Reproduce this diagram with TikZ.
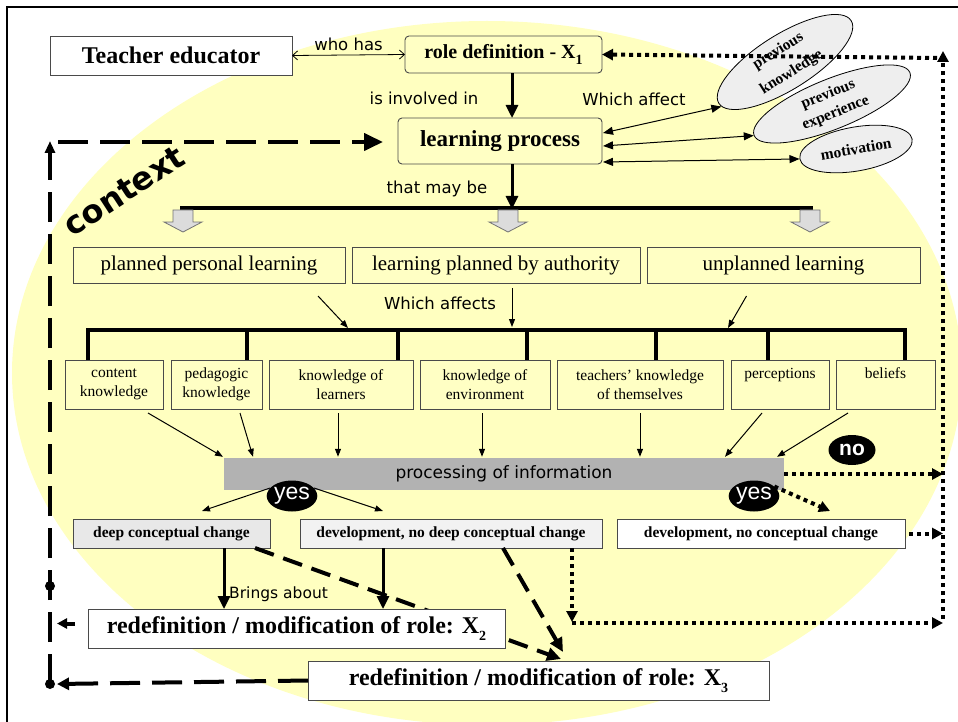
\documentclass[tikz,border=0pt]{standalone}
\usepackage{fontspec}
\setmainfont{Liberation Serif}
\newfontfamily\comic{DejaVu Sans}
\newfontfamily\arialf{Liberation Sans}
\usetikzlibrary{shapes.geometric,arrows.meta,calc}
\definecolor{ylw}{HTML}{FFFFC0}
\definecolor{boxy}{HTML}{FFFFC4}
\definecolor{bord}{HTML}{4A4A4A}
\definecolor{ellg}{HTML}{EEEEEE}
\definecolor{procg}{HTML}{B2B2B2}
\definecolor{blockg}{HTML}{DCDCDC}
\newcommand{\subx}[1]{\raisebox{-0.28em}{\fontsize{14}{14}\selectfont #1}}
\begin{document}
\begin{tikzpicture}[x=1pt,y=-1pt,
  box/.style={draw=bord, line width=0.9pt, inner sep=0pt, outer sep=0pt},
  rbox/.style={box, rounded corners=4pt, fill=boxy},
  ybox/.style={box, fill=boxy},
  bigtxt/.style={font=\fontsize{24}{28}\selectfont\bfseries},
  smallbox/.style={ybox, minimum height=49pt, align=center, font=\fontsize{15.5}{19}\selectfont},
  midbox/.style={ybox, minimum height=36pt, font=\fontsize{21}{24}\selectfont},
  resbox/.style={box, minimum height=29pt, font=\fontsize{15.5}{18}\selectfont\bfseries},
  oval/.style={ellipse, draw=black, line width=0.8pt, fill=ellg, inner sep=0pt, align=center, font=\fontsize{15.5}{20}\selectfont\bfseries},
  lbl/.style={font=\comic\fontsize{16.5}{18}\selectfont, inner sep=0pt},
  thinarr/.style={line width=1pt, -{Triangle[length=8pt,width=6pt]}},
  dblarr/.style={line width=1pt, {Triangle[length=10pt,width=8pt]}-{Triangle[length=10pt,width=8pt]}},
  openarr/.style={line width=0.8pt, {Straight Barb[length=5pt,width=9pt]}-{Straight Barb[length=5pt,width=9pt]}},
  thickarr/.style={line width=3pt, -{Triangle[length=13pt,width=12pt]}},
  barln/.style={line width=3.5pt},
  dshln/.style={line width=4pt, dash pattern=on 30pt off 12pt},
  dshdiag/.style={line width=4pt, dash pattern=on 20pt off 10pt},
  dotln/.style={line width=4pt, dash pattern=on 4pt off 4pt},
  dothead/.style={-{Triangle[length=11pt,width=11pt]}},
  badge/.style={ellipse, fill=black, text=white, inner sep=0pt, minimum width=46pt, minimum height=31pt},
]
\useasboundingbox (0,0) rectangle (958,722);
% background
\fill[ylw] (487,373) ellipse [x radius=475, y radius=352];
\draw[line width=2pt] (7,740) -- (7,7) -- (975,7);

% context
\node[rotate=33, font=\comic\fontsize{32}{34}\selectfont\bfseries] (ctx) at (124,191) {context};

% top nodes
\node[box, fill=white, minimum width=242pt, minimum height=39pt, bigtxt] (te) at (171,55.5) {Teacher educator};
\node[rbox, minimum width=197pt, minimum height=37pt, font=\fontsize{20}{24}\selectfont\bfseries] (rd) at (503.5,54.5) {role definition - X\subx{1}};
\node[rbox, minimum width=204pt, minimum height=46pt, font=\fontsize{23}{26}\selectfont\bfseries] (lp) at (500,141) {learning process};

\node[oval, rotate=32, minimum width=156pt, minimum height=54pt, font=\fontsize{15.5}{25}\selectfont\bfseries] (pk) at (785,62) {previous\\knowledge};
\node[oval, rotate=22, minimum width=168pt, minimum height=50pt] (pe) at (832,104) {previous\\experience};
\node[oval, rotate=10, minimum width=114pt, minimum height=44pt] (mo) at (856,149) {motivation};

\draw[openarr] (te.east) -- (rd.west) node[midway, above=4pt, lbl] {who has};
\draw[thickarr] ($(rd.south)+(8.5,0)$) coordinate (a1) -- (a1 |- lp.north);
\node[lbl] at (424,98) {is involved in};
\node[lbl] at (634,99) {Which affect};
\draw[dblarr] ($(lp.north east)+(1,15)$) -- (pk.183);
\draw[dblarr] ($(lp.east)+(1,5)$) -- (pe.west);
\draw[dblarr] ($(lp.south east)+(1,-2)$) -- (mo.west);

% that may be
\draw[thickarr] ($(lp.south)+(12,0)$) coordinate (a2) -- (512,209);
\node[lbl] at (437,189) {that may be};
\coordinate (b1L) at (180,208);
\coordinate (b1R) at (813,208);
\draw[barln] (b1L) -- (b1R);
\foreach \cx in {183,508,810}{
  \draw[fill=blockg, draw=black!55, line width=0.8pt] (\cx-10,210) -- (\cx+10,210) -- (\cx+10,222) -- (\cx+19,222) -- (\cx,232) -- (\cx-19,222) -- (\cx-10,222) -- cycle;
}

% three learning types
\node[midbox, minimum width=272pt] (ppl) at (209,265) {planned personal learning};
\node[midbox, minimum width=288pt] (lpa) at (496,265) {learning planned by authority};
\node[midbox, minimum width=273pt] (ul) at (783.5,265) {unplanned learning};
\node[lbl] at (440,303) {Which affects};
\draw[thinarr] ($(ppl.south)+(109,13)$) -- (348,328);
\draw[thinarr] ($(lpa.south)+(16,5)$) -- (512,327);
\draw[thinarr] ($(ul.south)+(-37,13)$) -- (728,328);

% seven components
\node[smallbox, minimum width=98pt] (ck) at (114,384.5) {content\\knowledge};
\node[smallbox, minimum width=91pt] (pk2) at (216.5,384.5) {pedagogic\\knowledge};
\node[smallbox, minimum width=144pt] (kl) at (341,384.5) {knowledge of\\learners};
\node[smallbox, minimum width=130pt] (ke) at (485,384.5) {knowledge of\\environment};
\node[smallbox, minimum width=166pt] (tk) at (640,384.5) {teachers' knowledge\\of themselves};
\node[smallbox, minimum width=98pt] (pc) at (780,384.5) {perceptions\\\phantom{p}};
\node[smallbox, minimum width=99pt] (bl) at (885.5,384.5) {beliefs\\\phantom{p}};

\draw[barln] ($(ck.north west)+(23,0)$) -- ++(0,-30) -- ($(bl.north)+(19.5,-30)$) -- ++(0,30);
\draw[barln] ($(pk2.north)+(30.5,0)$) -- ++(0,-30);
\draw[barln] ($(kl.north)+(57,0)$) -- ++(0,-30);
\draw[barln] ($(ke.north)+(42,0)$) -- ++(0,-30);
\draw[barln] ($(tk.north)+(16,0)$) -- ++(0,-30);
\draw[barln] ($(pc.north)+(-12,0)$) -- ++(0,-30);

% processing
\node[fill=procg, minimum width=560pt, minimum height=32pt, inner sep=0pt, font=\comic\fontsize{17}{19}\selectfont] (proc) at (504,474) {processing of information};
\draw[thinarr] ($(ck.south)+(34,4)$) -- ($(proc.north)+(-281,-1)$);
\draw[thinarr] ($(pk2.south)+(23.5,4)$) -- ($(proc.north)+(-251,-1)$);
\draw[thinarr] ($(kl.south)+(-3,4)$) -- ($(proc.north)+(-166,-1)$);
\draw[thinarr] ($(ke.south)+(-3,4)$) -- ($(proc.north)+(-22,-1)$);
\draw[thinarr] ($(tk.south)+(0,4)$) -- ($(proc.north)+(136,-1)$);
\draw[thinarr] ($(pc.south)+(-18,4)$) -- ($(proc.north)+(221,-1)$);
\draw[thinarr] ($(bl.south)+(-37.5,4)$) -- ($(proc.north)+(273,-1)$);

% outcomes
\node[resbox, fill=black!9, minimum width=197pt] (dcc) at (171.5,533.5) {deep conceptual change};
\node[resbox, fill=black!5, minimum width=302pt] (dnd) at (451,533.5) {development, no deep conceptual change};
\node[resbox, fill=white, minimum width=288pt] (dnc) at (761,533.5) {development, no conceptual change};

\node[badge, font=\arialf\fontsize{23}{24}\selectfont] (yes1) at (292,496) {yes};
\node[badge, font=\arialf\fontsize{23}{24}\selectfont] (yes2) at (754,496) {yes};
\node[badge, minimum width=47pt, minimum height=30pt, font=\arialf\fontsize{21}{22}\selectfont\bfseries] (no) at (852,450) {no};

\draw[thinarr] (yes1.160) -- ($(dcc.north)+(30.5,-8)$);
\draw[thinarr] (yes1.20) -- ($(dnd.north)+(-68,-8)$);
\draw[dotln, dothead] (yes2.25) -- ($(dnc.north)+(69,-8)$);

% dashed diagonals (under X2)
\draw[dshdiag, -{Triangle[length=14pt,width=13pt]}] ($(dcc.south east)+(-15,0)$) -- (561,659);
\draw[dshdiag, -{Triangle[length=14pt,width=13pt]}] ($(dnd.south)+(52,0)$) -- (563,652);

% result boxes
\node[box, fill=white, minimum width=417pt, minimum height=39pt, bigtxt] (x2) at (296.5,628.5) {redefinition / modification of role: X\subx{2}};
\node[box, fill=white, minimum width=461pt, minimum height=39pt, bigtxt] (x3) at (538.5,680.5) {redefinition / modification of role: X\subx{3}};

\draw[thickarr] ($(dcc.south)+(52.5,0)$) coordinate (t1) -- (t1 |- x2.north);
\draw[thickarr] ($(dnd.south)+(-68,0)$) coordinate (t2) -- (t2 |- x2.north);
\node[lbl, anchor=west, font=\comic\fontsize{15.5}{17}\selectfont] at (229,594) {Brings about};

% right dotted feedback
\coordinate (rtop) at (943,58);
\coordinate (rbot) at (943,623);
\coordinate (c572) at (572,0);
\draw[dotln, dothead] (943,619) -- (943,51);
\draw[dotln, dothead] (937,58) -- (rd.east);
\draw[dotln, dothead] (proc.east) -- (proc.east -| rtop);
\draw[dotln, dothead] ($(dnc.east)+(4,0)$) -- (dnc.east -| rtop);
\draw[dotln, dothead] (dnd.south -| c572) -- (572,622);
\draw[dotln, dothead] (572,623) -- (rbot);

% left dashed feedback
\coordinate (L1) at (50,684);
\coordinate (L2) at (50,141);
\draw[dshln, -{Triangle[length=12pt,width=12pt]}] (x3.west) -- (57,684);
\draw[dshln, -{Triangle[length=12pt,width=10pt]}] (L1) -- (L2);
\draw[dshln, -{Triangle[length=19pt,width=17pt]}] (58,142) -- ($(lp.west)+(-15,1)$);
\draw[line width=4pt, -{Triangle[length=10pt,width=10pt]}] ($(x2.west)+(-13,-5)$) -- (57,623.5);
\fill (50,586) circle (5);
\fill (L1) circle (5);
\end{tikzpicture}
\end{document}
